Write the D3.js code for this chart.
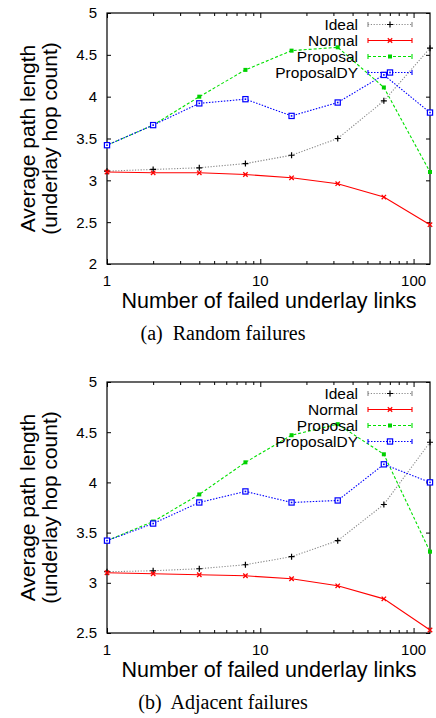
<!DOCTYPE html>
<html><head><meta charset="utf-8">
<script src="https://cdn.jsdelivr.net/npm/d3@7"></script>
<style>
body{margin:0;background:#fff}
text{font-family:"Liberation Sans",Arial,sans-serif;fill:#000}
.cap{font-family:"Liberation Serif","Times New Roman",serif}
</style>
</head><body>
<svg id="fig" width="436" height="718"></svg>
<script>
// data: number of failed links (log axis) and average path lengths
var failures=[1,2,4,8,16,32,64,128];
var seriesNames=["Ideal","Normal","Proposal","ProposalDY"];

var randIdeal=[3.11,3.13,3.15,3.20,3.30,3.50,3.95,4.58];
var randNormal=[3.10,3.09,3.09,3.07,3.03,2.96,2.80,2.47];
var randProposal=[3.42,3.66,4.00,4.32,4.55,4.59,4.11,3.10];
var randProposalDY=[3.42,3.66,3.92,3.97,3.77,3.93,4.26,3.81];

var adjIdeal=[3.11,3.12,3.14,3.18,3.26,3.42,3.78,4.40];
var adjNormal=[3.10,3.09,3.08,3.07,3.04,2.97,2.84,2.53];
var adjProposal=[3.42,3.61,3.88,4.20,4.47,4.58,4.28,3.31];
var adjProposalDY=[3.42,3.59,3.80,3.91,3.80,3.82,4.18,4.00];

var yTicksRand=[2,2.5,3,3.5,4,4.5,5];
var yTicksAdj=[2.5,3,3.5,4,4.5,5];
var xMajor=[1,10,100];
var xMinor=[2,3,4,5,6,7,8,9,20,30,40,50,60,70,80,90];

var STYLE={
  Ideal:{color:"#888",mcolor:"#000",dash:"1.2,1.6",mark:"plus"},
  Normal:{color:"#ff0000",mcolor:"#ff0000",dash:null,mark:"cross"},
  Proposal:{color:"#00e000",mcolor:"#00d000",dash:"3,2",mark:"fsq"},
  ProposalDY:{color:"#0000ff",mcolor:"#0000ff",dash:"1.5,1.5",mark:"osq"}
};

var svg=d3.select("#fig");
var L=107,R=430;

function marker(g,type,cx,cy,col){
  if(type=="plus"){
    g.append("path").attr("d","M"+(cx-3)+","+cy+"h6M"+cx+","+(cy-3)+"v6")
     .attr("stroke",col).attr("stroke-width",1.2);
  }else if(type=="cross"){
    g.append("path").attr("d","M"+(cx-2.2)+","+(cy-2.2)+"l4.4,4.4M"+(cx-2.2)+","+(cy+2.2)+"l4.4,-4.4")
     .attr("stroke",col).attr("stroke-width",1.3);
  }else if(type=="fsq"){
    g.append("rect").attr("x",cx-2).attr("y",cy-2).attr("width",4).attr("height",4)
     .attr("fill",col);
  }else{
    g.append("rect").attr("x",cx-2.6).attr("y",cy-2.6).attr("width",5.2).attr("height",5.2)
     .attr("fill","#fff").attr("stroke",col).attr("stroke-width",1.2);
    g.append("rect").attr("x",cx-0.8).attr("y",cy-0.8).attr("width",1.6).attr("height",1.6).attr("fill",col);
  }
}

function panel(cfg){
  var g=svg.append("g");
  var x=d3.scaleLog().domain([1,128]).range([L,R]);
  var y=d3.scaleLinear().domain([cfg.ymin,5]).range([cfg.bottom,cfg.top]);

  // ticks, all pointing inward (gnuplot style mirror)
  g.append("g").attr("transform","translate(0,"+cfg.bottom+")").call(d3.axisBottom(x).tickValues(xMajor).tickSize(-5).tickFormat(""));
  g.append("g").attr("transform","translate(0,"+cfg.bottom+")").call(d3.axisBottom(x).tickValues(xMinor).tickSize(-3).tickFormat(""));
  g.append("g").attr("transform","translate(0,"+cfg.top+")").call(d3.axisTop(x).tickValues(xMajor).tickSize(-5).tickFormat(""));
  g.append("g").attr("transform","translate(0,"+cfg.top+")").call(d3.axisTop(x).tickValues(xMinor).tickSize(-3).tickFormat(""));
  g.append("g").attr("transform","translate("+L+",0)").call(d3.axisLeft(y).tickValues(cfg.yticks).tickSize(-4).tickFormat(""));
  g.append("g").attr("transform","translate("+R+",0)").call(d3.axisRight(y).tickValues(cfg.yticks).tickSize(-4).tickFormat(""));
  g.selectAll(".domain").remove();
  g.selectAll(".tick line").attr("stroke","#000");

  // tick labels
  g.selectAll("text.yl").data(cfg.yticks).enter().append("text")
    .attr("x",L-10).attr("y",function(d){return y(d);}).attr("dy","0.36em")
    .attr("text-anchor","end").style("font-size","15px").text(function(d){return d;});
  g.selectAll("text.xl").data(xMajor).enter().append("text")
    .attr("x",function(d){return x(d);}).attr("y",cfg.bottom+22)
    .attr("text-anchor","middle").style("font-size","15px").text(function(d){return d;});

  g.append("rect").attr("x",L).attr("y",cfg.top).attr("width",R-L).attr("height",cfg.bottom-cfg.top)
    .attr("fill","none").attr("stroke","#000").attr("stroke-width",1.2);

  // axis titles
  var mid=(cfg.top+cfg.bottom)/2;
  g.append("text").attr("transform","translate(28,"+mid+") rotate(-90)").attr("dy","0.35em")
    .attr("text-anchor","middle").style("font-size","21px").text("Average path length");
  g.append("text").attr("transform","translate(50,"+mid+") rotate(-90)").attr("dy","0.35em")
    .attr("text-anchor","middle").style("font-size","21px").text("(underlay hop count)");
  g.append("text").attr("x",269).attr("y",cfg.bottom+44).attr("text-anchor","middle")
    .style("font-size","21.5px").text("Number of failed underlay links");
  g.append("text").attr("class","cap").attr("x",223).attr("y",cfg.bottom+76).attr("text-anchor","middle")
    .style("font-size","20px").attr("xml:space","preserve").text(cfg.caption);

  var line=d3.line().x(function(d){return x(d[0]);}).y(function(d){return y(d[1]);});
  seriesNames.forEach(function(name,i){
    var st=STYLE[name];
    var pts=failures.map(function(f,k){return [f,cfg.series[i][k]];});
    g.append("path").attr("d",line(pts)).attr("fill","none").attr("stroke",st.color)
      .attr("stroke-width",1.1).attr("stroke-dasharray",st.dash);
    pts.forEach(function(p){marker(g,st.mark,x(p[0]),y(p[1]),st.mcolor);});

    // legend entry
    var ly=cfg.top+11.5+i*16;
    g.append("text").attr("x",358).attr("y",ly).attr("dy","0.36em").attr("text-anchor","end")
      .style("font-size","15.5px").text(name);
    g.append("path").attr("d","M368,"+ly+"H412").attr("stroke",st.color).attr("stroke-width",1.1)
      .attr("stroke-dasharray",st.dash);
    g.append("path").attr("d","M368,"+(ly-2.5)+"v5M412,"+(ly-2.5)+"v5").attr("stroke",st.color).attr("stroke-width",1.1);
    marker(g,st.mark,390,ly,st.mcolor);
  });
}

panel({top:13,bottom:264,ymin:2,yticks:yTicksRand,caption:"(a)  Random failures",
  series:[randIdeal,randNormal,randProposal,randProposalDY]});
panel({top:382,bottom:633,ymin:2.5,yticks:yTicksAdj,caption:"(b)  Adjacent failures",
  series:[adjIdeal,adjNormal,adjProposal,adjProposalDY]});
</script>
</body></html>
